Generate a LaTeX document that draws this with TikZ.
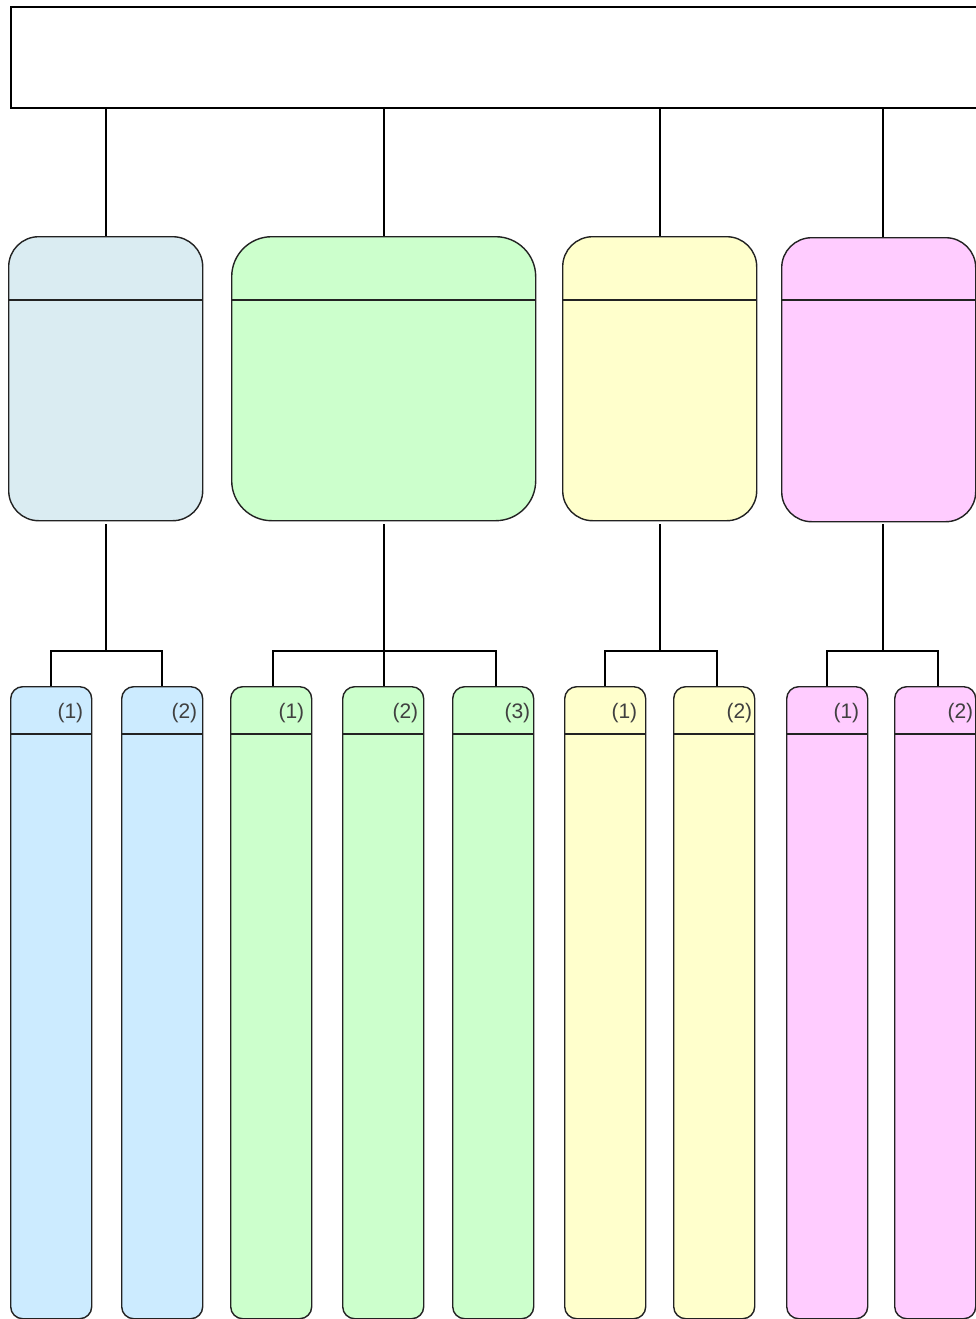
\documentclass[tikz,border=0pt]{standalone}
\usepackage{fontspec}
\setmainfont{Liberation Sans}
\definecolor{bluemid}{HTML}{DAECF2}
\definecolor{bluech}{HTML}{CCEBFF}
\definecolor{greenbx}{HTML}{CCFFCC}
\definecolor{yellowbx}{HTML}{FFFFCC}
\definecolor{pinkbx}{HTML}{FFCCFF}
\definecolor{lblgray}{HTML}{404040}
\definecolor{edge}{HTML}{222222}
\begin{document}
\begin{tikzpicture}[x=1pt,y=-1pt,
  conn/.style={line width=2pt, draw=black},
  topbox/.style={draw=black, line width=2pt, anchor=north west, inner sep=0pt, minimum width=990pt, minimum height=101pt},
  midbox/.style={draw=edge, line width=1.4pt, rounded corners=#1, anchor=north west, inner sep=0pt, minimum height=284pt},
  childbox/.style={draw=edge, line width=1.4pt, rounded corners=12pt, anchor=north west, inner sep=0pt, minimum width=81pt, minimum height=632pt},
  hdr/.style={draw=edge, line width=1.2pt},
  lbl/.style={anchor=east, inner sep=0pt, text=lblgray, font=\fontsize{21}{21}\selectfont}
]
\useasboundingbox (0,0) rectangle (976,1319);
\clip (0,0) rectangle (976,1319);
\fill[white] (0,0) rectangle (976,1319);

% top box
\node[topbox] (top) at (10,6) {};

% middle boxes
\node[midbox=30pt, fill=bluemid, minimum width=194pt] (m1) at (8,236) {};
\node[midbox=40pt, fill=greenbx, minimum width=304pt] (m2) at (231,236) {};
\node[midbox=30pt, fill=yellowbx, minimum width=194pt] (m3) at (562,236) {};
\node[midbox=30pt, fill=pinkbx, minimum width=194pt] (m4) at (781,237) {};
\foreach \m in {m1,m2,m3,m4}{
  \draw[hdr] (\m.west |- 0,300) -- (\m.east |- 0,300);
}

% child boxes
\node[childbox, fill=bluech] (c11) at (10,686) {};
\node[childbox, fill=bluech] (c12) at (121,686) {};
\node[childbox, fill=greenbx] (c21) at (230,686) {};
\node[childbox, fill=greenbx] (c22) at (342,686) {};
\node[childbox, fill=greenbx] (c23) at (452,686) {};
\node[childbox, fill=yellowbx] (c31) at (564,686) {};
\node[childbox, fill=yellowbx] (c32) at (673,686) {};
\node[childbox, fill=pinkbx] (c41) at (786,686) {};
\node[childbox, fill=pinkbx] (c42) at (894,686) {};
\foreach \c in {c11,c12,c21,c22,c23,c31,c32,c41,c42}{
  \draw[hdr] (\c.west |- 0,734) -- (\c.east |- 0,734);
}

% labels
\node[lbl] (l11) at ([xshift=-9pt]c11.east |- 0,713) {(1)};
\node[lbl] (l12) at ([xshift=-6pt]c12.east |- 0,713) {(2)};
\node[lbl] (l21) at ([xshift=-8pt]c21.east |- 0,713) {(1)};
\node[lbl] (l22) at ([xshift=-6pt]c22.east |- 0,713) {(2)};
\node[lbl] (l23) at ([xshift=-4pt]c23.east |- 0,713) {(3)};
\node[lbl] (l31) at ([xshift=-9pt]c31.east |- 0,713) {(1)};
\node[lbl] (l32) at ([xshift=-3pt]c32.east |- 0,713) {(2)};
\node[lbl] (l41) at ([xshift=-9pt]c41.east |- 0,713) {(1)};
\node[lbl] (l42) at ([xshift=-3pt]c42.east |- 0,713) {(2)};

% connection points
\coordinate (m4top) at ([xshift=4pt]m4.north);
\coordinate (m4bot) at ([xshift=4pt,yshift=-2pt]m4.south);

% connectors top -> middle
\draw[conn] (top.south -| m1.north) -- (m1.north);
\draw[conn] (top.south -| m2.north) -- (m2.north);
\draw[conn] (top.south -| m3.north) -- (m3.north);
\draw[conn] (top.south -| m4top) -- (m4top);

% junctions
\coordinate (j1) at (m1.south |- 0,651);
\coordinate (j2) at (m2.south |- 0,651);
\coordinate (j3) at (m3.south |- 0,651);
\coordinate (j4) at (m4bot |- 0,651);

\draw[conn] ([yshift=-3pt]m1.south) -- (j1);
\draw[conn] ([yshift=-3pt]m2.south) -- (j2);
\draw[conn] ([yshift=-3pt]m3.south) -- (j3);
\draw[conn] (m4bot) -- (j4);

\draw[conn] (c11.north) |- (j1) -| (c12.north);
\draw[conn] ([xshift=1.5pt]c21.north) |- (j2) -| ([xshift=2.5pt]c23.north);
\draw[conn] (j2) -- (j2 |- c22.north);
\draw[conn] (c31.north) |- (j3) -| ([xshift=3pt]c32.north);
\draw[conn] (c41.north) |- (j4) -| ([xshift=3pt]c42.north);
\end{tikzpicture}
\end{document}
